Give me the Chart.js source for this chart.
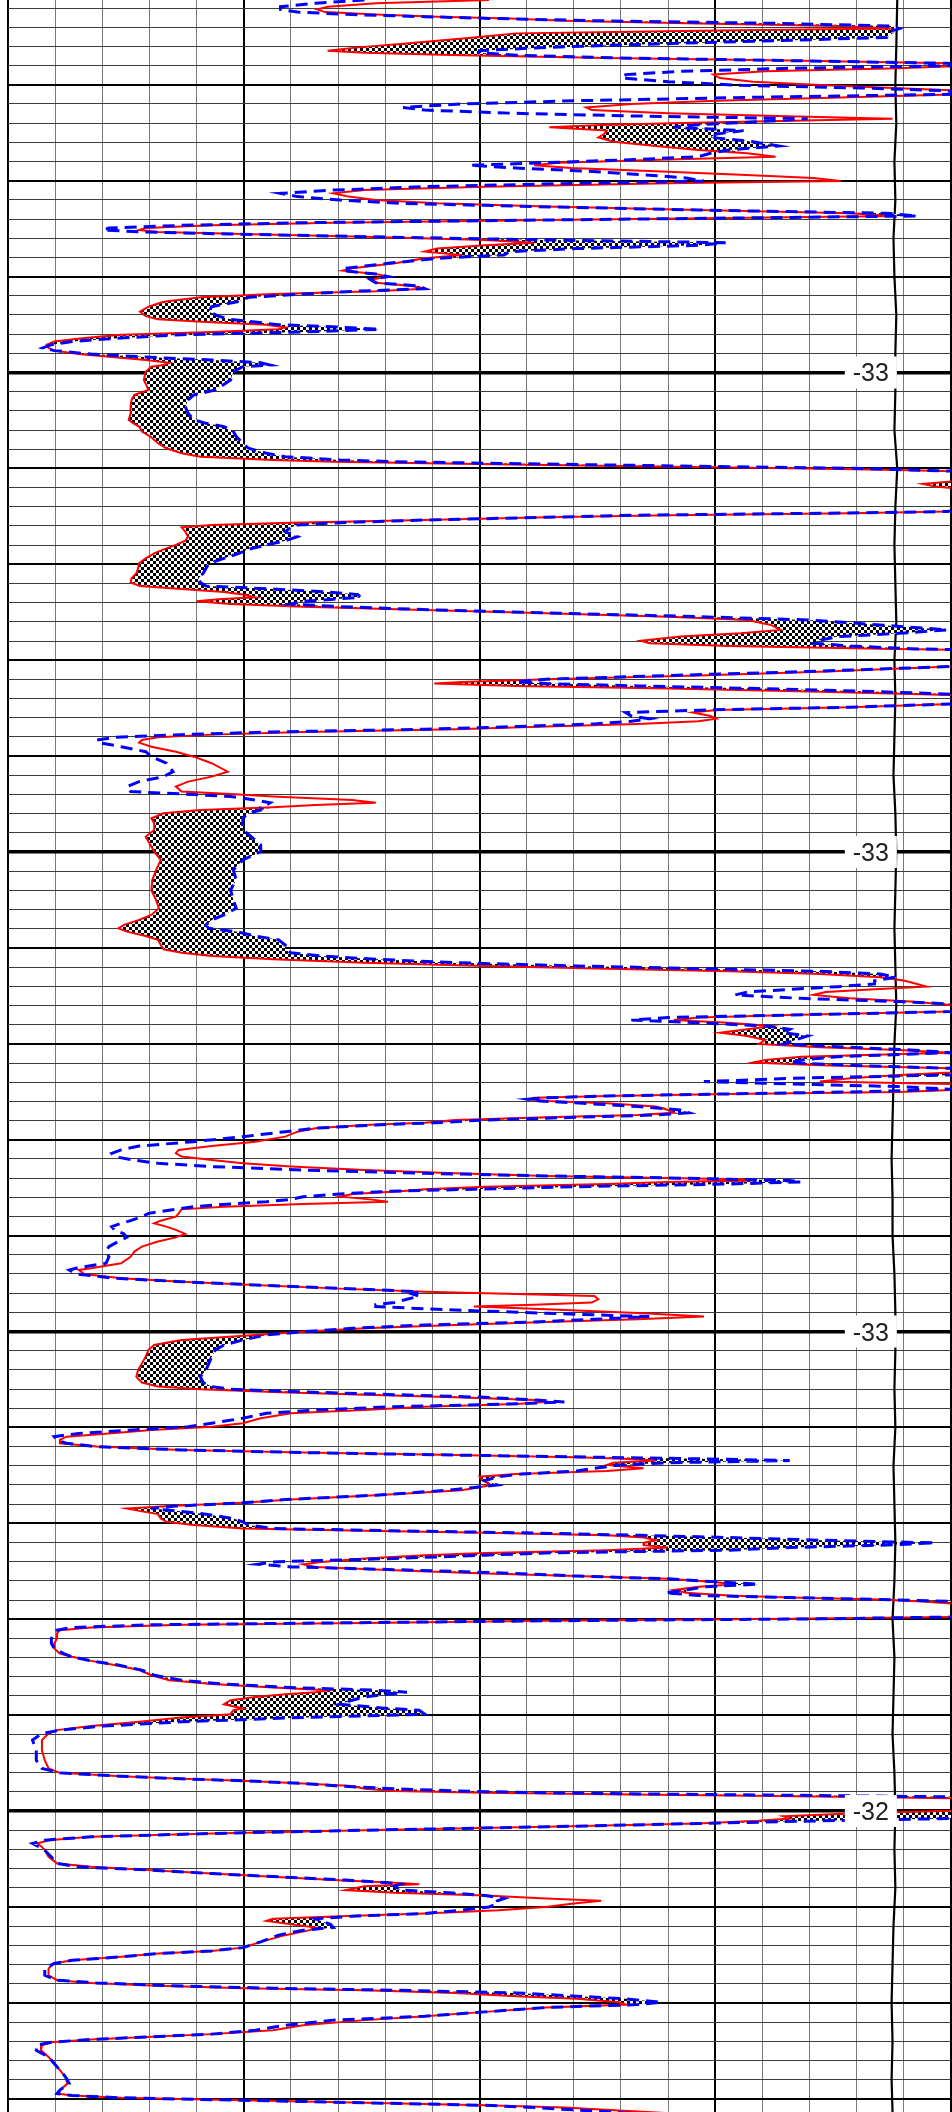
<!DOCTYPE html>
<html><head><meta charset="utf-8">
<script src="https://cdn.jsdelivr.net/npm/chart.js@4.4.0/dist/chart.umd.min.js"></script>
<style>html,body{margin:0;padding:0;background:#fff;overflow:hidden}#wrap{width:952px;height:2112px}</style>
</head><body>
<div id="wrap"><canvas id="c" width="952" height="2112" style="width:952px;height:2112px"></canvas></div>
<script>
// depth of every sample (top of track = 1005.58, bottom = 1115.69)
const depthM = [
1005.58,1005.75,1005.93,1006.07,1006.21,1006.34,1006.45,1006.55,1006.66,1006.80,
1006.94,1007.07,1007.18,1007.32,1007.53,1007.70,1007.87,1008.05,1008.22,1008.33,
1008.46,1008.60,1008.74,1008.88,1008.99,1009.14,1009.30,1009.47,1009.65,1009.84,
1010.03,1010.17,1010.31,1010.48,1010.65,1010.83,1011.00,1011.18,1011.32,1011.49,
1011.63,1011.77,1011.94,1012.08,1012.22,1012.39,1012.57,1012.74,1012.97,1013.19,
1013.40,1013.57,1013.75,1013.89,1014.06,1014.20,1014.34,1014.51,1014.69,1014.86,
1015.02,1015.14,1015.31,1015.49,1015.66,1015.83,1016.01,1016.18,1016.35,1016.53,
1016.70,1016.84,1016.95,1017.05,1017.19,1017.33,1017.47,1017.57,1017.68,1017.78,
1017.92,1018.09,1018.23,1018.37,1018.54,1018.70,1018.87,1019.05,1019.31,1019.57,
1019.69,1019.87,1020.00,1020.14,1020.32,1020.49,1020.63,1020.77,1020.91,1021.08,
1021.31,1021.57,1021.83,1022.06,1022.23,1022.37,1022.51,1022.65,1022.75,1022.89,
1023.03,1023.20,1023.38,1023.55,1023.72,1023.86,1024.04,1024.21,1024.35,1024.49,
1024.61,1024.70,1024.96,1025.39,1025.91,1026.17,1026.43,1026.78,1027.13,1027.47,
1027.65,1027.82,1028.08,1028.34,1028.69,1028.95,1029.21,1029.39,1029.56,1029.65,
1029.73,1029.82,1029.91,1029.99,1030.08,1030.17,1030.60,1030.81,1030.95,1031.12,
1032.08,1032.25,1032.34,1032.44,1032.55,1032.69,1032.83,1032.95,1033.07,1033.30,
1033.56,1033.77,1033.99,1034.22,1034.43,1034.69,1034.95,1035.21,1035.47,1035.73,
1035.95,1036.13,1036.29,1036.44,1036.58,1036.72,1036.82,1036.93,1037.07,1037.21,
1037.38,1037.55,1037.73,1037.90,1038.16,1038.42,1038.60,1038.77,1038.98,1039.12,
1039.26,1039.40,1039.47,1039.99,1040.33,1040.60,1040.80,1040.99,1041.13,1041.22,
1041.34,1041.48,1041.64,1041.81,1041.99,1042.25,1042.45,1042.59,1042.73,1042.91,
1043.05,1043.18,1043.32,1043.46,1043.60,1043.74,1043.88,1044.02,1044.16,1044.30,
1044.51,1044.77,1045.03,1045.37,1045.81,1046.07,1046.33,1046.59,1046.85,1046.97,
1047.11,1047.29,1047.43,1047.55,1047.67,1047.81,1047.98,1048.24,1048.50,1048.85,
1049.20,1049.63,1049.98,1050.41,1050.94,1051.46,1051.98,1052.50,1052.93,1053.28,
1053.54,1053.80,1053.98,1054.15,1054.38,1054.58,1054.85,1055.07,1055.25,1055.42,
1055.59,1055.77,1055.94,1056.08,1056.22,1056.36,1056.53,1056.71,1056.88,1057.02,
1057.16,1057.30,1057.45,1057.63,1057.80,1057.97,1058.15,1058.32,1058.50,1058.63,
1058.76,1058.90,1059.07,1059.24,1059.42,1059.59,1059.80,1060.01,1060.18,1060.32,
1060.46,1060.67,1060.84,1060.98,1061.12,1061.28,1061.45,1061.62,1061.80,1061.97,
1062.09,1062.23,1062.37,1062.51,1062.61,1062.72,1062.81,1062.89,1062.98,1063.10,
1063.27,1063.45,1063.59,1063.71,1063.83,1063.97,1064.11,1064.23,1064.40,1064.58,
1064.84,1065.10,1065.33,1065.53,1065.71,1065.88,1066.06,1066.23,1066.40,1066.58,
1066.75,1066.89,1066.99,1067.06,1067.13,1067.20,1067.31,1067.45,1067.58,1067.69,
1067.83,1067.97,1068.11,1068.23,1068.35,1068.49,1068.63,1068.84,1069.01,1069.22,
1069.36,1069.53,1069.70,1069.91,1070.09,1070.31,1070.57,1070.83,1071.10,1071.44,
1071.70,1071.79,1072.00,1072.22,1072.40,1072.57,1072.75,1072.92,1073.04,1073.15,
1073.32,1073.49,1073.60,1073.70,1073.84,1074.05,1074.22,1074.36,1074.50,1074.66,
1074.83,1075.01,1075.18,1075.44,1075.70,1075.96,1076.31,1076.66,1077.00,1077.35,
1077.66,1077.87,1078.01,1078.15,1078.29,1078.43,1078.57,1078.67,1078.78,1078.92,
1079.09,1079.26,1079.52,1079.78,1079.96,1080.13,1080.31,1080.48,1080.65,1080.83,
1081.00,1081.17,1081.31,1081.44,1081.56,1081.66,1081.73,1081.84,1081.96,1082.13,
1082.27,1082.43,1082.57,1082.77,1083.00,1083.27,1083.53,1083.76,1083.93,1084.10,
1084.23,1084.35,1084.52,1084.75,1084.92,1085.09,1085.27,1085.39,1085.49,1085.62,
1085.74,1085.88,1086.02,1086.14,1086.26,1086.40,1086.54,1086.66,1086.83,1087.01,
1087.13,1087.27,1087.44,1087.61,1087.75,1087.89,1088.05,1088.17,1088.31,1088.48,
1088.62,1088.76,1088.87,1088.97,1089.07,1089.18,1089.35,1089.87,1089.98,1090.08,
1090.19,1090.29,1090.43,1090.57,1090.74,1091.00,1091.26,1091.52,1091.79,1091.96,
1092.17,1092.39,1092.65,1092.92,1093.18,1093.38,1093.56,1093.70,1093.80,1093.91,
1094.05,1094.22,1094.43,1094.65,1094.74,1094.95,1095.12,1095.35,1095.57,1095.78,
1095.96,1096.30,1096.83,1097.35,1097.78,1098.01,1098.18,1098.32,1098.42,1098.56,
1098.70,1098.84,1098.95,1099.05,1099.12,1099.19,1099.26,1099.33,1099.52,1099.95,
1100.13,1100.27,1100.39,1100.51,1100.65,1100.82,1101.00,1101.17,1101.34,1101.52,
1101.69,1101.87,1102.04,1102.39,1102.73,1102.91,1103.08,1103.26,1103.43,1103.60,
1103.74,1103.81,1103.92,1104.12,1104.26,1104.40,1104.56,1104.68,1104.82,1105.00,
1105.17,1105.34,1105.48,1105.62,1105.73,1105.90,1106.07,1106.21,1106.47,1106.82,
1107.12,1107.29,1107.43,1107.60,1107.78,1107.95,1108.21,1108.56,1108.82,1108.96,
1109.10,1109.24,1109.34,1109.48,1109.65,1109.79,1109.97,1110.09,1110.24,1110.47,
1110.70,1110.90,1111.17,1111.43,1111.63,1111.77,1111.91,1112.05,1112.21,1112.47,
1112.82,1113.16,1113.51,1113.86,1114.21,1114.55,1114.73,1114.83,1114.95,1115.08,
1115.21,1115.34,1115.46,1115.75
];
// red solid curve
const deepCurve = [
51.0,39.0,33.9,32.8,33.6,39.0,45.5,53.2,59.0,73.2,
88.0,93.8,73.2,53.9,49.4,45.5,41.6,37.1,33.9,37.8,
48.1,63.5,82.9,99.6,102,94.5,80.3,74.8,75.5,79.0,
86.7,93.8,101,102,89.3,75.1,66.1,61.3,61.9,70.0,
81.6,93.8,76.4,63.5,57.4,63.5,63.2,62.6,64.2,68.7,
73.2,78.4,81.4,70.0,58.4,55.8,59.7,68.7,77.7,85.4,
88.3,70.0,50.6,37.8,34.5,36.1,39.0,45.5,57.1,73.2,
89.3,93.8,76.4,57.1,34.5,21.6,14.6,13.9,15.9,24.9,
37.8,50.6,55.8,50.6,45.5,44.2,48.1,44.2,41.0,36.5,
35.5,39.0,40.3,38.7,39.0,42.9,44.2,39.0,28.1,20.4,
16.5,14.9,14.0,14.6,15.9,21.0,27.4,29.4,28.7,21.6,
12.0,8.1,4.9,4.1,4.3,4.9,7.5,11.3,14.6,17.1,
16.5,15.2,14.6,14.4,14.9,13.4,13.1,13.0,13.0,12.8,
13.3,13.9,14.2,15.1,15.9,16.8,18.4,20.4,28.1,34.5,
44.2,57.1,70.0,82.9,94.5,102,102,97.0,98.3,102,
102,99.6,89.3,70.0,57.1,44.2,30.0,21.6,18.4,18.8,
19.1,18.8,17.8,16.5,15.5,14.6,13.9,13.8,13.6,13.1,
13.0,14.0,18.4,22.9,24.9,26.2,22.3,20.0,23.6,31.3,
44.2,57.1,70.0,78.4,80.9,81.9,77.7,71.3,67.1,68.0,
76.4,92.5,102,102,100,86.1,73.2,57.1,48.1,45.2,
53.9,70.0,86.1,100,102,102,89.3,75.1,72.6,74.5,
75.1,73.2,66.8,57.1,47.4,31.3,21.6,15.9,14.2,13.9,
15.2,17.8,19.7,21.6,23.3,21.6,19.1,17.8,18.4,23.6,
28.1,36.5,39.0,32.6,28.1,20.4,16.5,15.2,15.5,15.5,
14.6,15.1,15.5,16.2,15.7,15.3,15.2,15.7,16.0,15.2,
13.9,12.3,11.7,12.6,14.6,15.9,16.2,16.5,18.4,21.6,
28.1,37.8,50.6,63.5,76.4,86.1,92.5,95.1,96.4,97.4,
91.9,86.7,85.4,89.3,95.7,100,102,100,82.9,73.2,
70.6,76.4,80.9,78.4,75.5,78.4,80.3,79.6,86.1,94.5,
100,84.1,80.3,79.0,86.1,100,102,94.5,89.3,86.1,
100,102,102,94.5,76.4,63.5,55.8,55.2,57.1,63.5,
68.7,70.0,70.6,66.8,57.1,47.4,44.2,37.8,32.6,30.7,
29.4,26.2,21.6,18.1,17.8,18.4,21.6,24.9,30.0,37.8,
47.4,57.1,70.0,77.7,78.4,70.0,63.5,50.6,44.2,41.6,
36.5,35.2,38.4,40.3,31.3,22.9,18.4,18.1,17.8,16.2,
15.5,16.8,17.8,18.8,17.8,15.9,14.2,13.4,13.0,12.0,
8.8,7.5,8.1,12.0,18.4,26.2,34.5,44.2,53.9,62.2,
62.6,61.9,55.8,49.4,57.1,67.4,73.8,66.8,57.1,47.4,
37.8,31.3,26.2,18.4,15.5,14.9,14.6,14.2,13.8,13.6,
14.2,15.9,20.4,28.1,37.8,47.4,55.8,57.1,53.9,44.2,
37.8,30.0,26.8,24.9,21.6,15.2,10.7,6.2,5.5,5.5,
9.4,18.4,31.3,47.4,60.3,66.8,68.7,64.2,63.5,67.4,
63.5,53.9,50.0,50.3,51.3,48.1,39.0,30.0,24.9,17.1,
12.6,13.9,15.9,16.2,16.8,19.7,24.9,37.8,50.6,63.5,
67.4,68.7,67.4,67.4,70.0,63.5,50.6,44.2,37.8,33.2,
31.3,32.6,41.0,50.6,60.3,70.0,74.5,77.1,73.2,70.6,
71.9,76.4,82.9,92.5,97.0,100,102,102,82.9,57.1,
37.8,18.4,8.8,5.5,5.2,5.2,4.9,4.9,5.5,6.8,
8.8,11.3,13.9,15.2,17.1,21.6,28.1,33.9,32.6,29.4,
26.2,23.6,22.9,24.9,23.9,23.6,18.4,13.9,8.8,5.2,
4.3,3.6,3.6,3.9,4.3,5.5,12.0,18.4,24.9,31.3,
36.5,37.8,41.0,50.6,63.5,76.4,88.0,100,102,102,
89.3,82.2,82.9,79.6,73.2,57.1,37.8,21.6,8.8,4.3,
3.1,3.6,3.9,4.3,5.2,8.8,15.2,21.6,28.1,34.5,
41.0,43.6,37.8,35.8,41.0,50.6,57.1,62.9,60.0,57.0,
52.0,44.2,35.2,28.1,27.4,30.0,32.6,32.0,29.4,26.8,
24.9,21.6,15.9,12.0,6.8,4.9,4.3,4.3,5.2,8.8,
15.2,24.9,37.8,47.4,53.9,60.3,64.8,65.5,57.1,50.6,
44.2,37.8,31.3,28.1,21.6,15.2,8.8,4.6,3.6,3.5,
4.3,4.9,5.5,6.1,6.3,5.5,5.2,6.8,12.0,24.9,
37.8,50.6,59.0,70.0
];
// blue dashed curve
const shallowCurve = [
37.8,32.6,28.9,28.9,30.7,36.5,44.2,51.9,62.2,81.6,
93.8,94.5,93.8,93.8,93.2,81.6,68.7,57.1,50.0,50.0,
53.9,64.8,82.9,99.6,102,82.9,71.3,65.5,65.1,70.0,
77.7,90.6,99.6,102,79.6,60.3,48.1,41.9,44.2,53.9,
66.8,84.8,79.0,73.2,70.6,78.0,75.1,74.5,79.0,81.7,
76.4,74.5,73.2,66.8,57.1,49.0,53.9,61.6,67.4,71.9,
73.8,60.3,44.2,34.5,28.9,30.7,35.2,41.6,55.8,73.2,
93.2,96.4,76.4,57.1,31.3,18.4,10.7,10.1,14.6,23.6,
37.8,57.1,76.1,73.2,60.3,53.2,52.6,45.5,40.3,35.8,
35.5,39.0,40.3,38.4,39.0,43.6,44.2,36.5,31.3,25.5,
24.3,21.6,21.3,22.3,23.6,26.2,28.7,35.8,39.4,31.3,
18.4,12.0,6.8,4.6,3.7,4.9,8.8,15.2,21.6,26.8,
27.8,24.9,23.9,23.6,22.0,19.7,19.1,18.8,19.1,19.7,
21.0,22.9,23.9,24.2,24.9,25.5,27.4,29.4,35.2,41.0,
50.6,63.5,76.4,89.3,95.7,102,102,102,102,102,
102,99.6,86.1,66.8,57.1,44.2,35.2,30.7,30.0,29.4,
30.7,29.4,27.4,25.5,24.5,22.9,21.3,21.0,20.7,20.2,
20.4,21.0,28.1,33.9,37.1,37.4,34.5,31.3,30.0,35.2,
45.5,58.4,73.2,84.8,92.5,99.6,94.5,88.0,85.8,85.4,
89.3,95.7,102,102,100,84.1,70.0,57.1,53.9,57.1,
66.8,79.6,92.5,102,102,102,89.3,74.5,65.5,66.1,
68.0,66.1,62.2,53.9,44.2,28.1,18.4,11.3,9.4,9.7,
12.0,14.6,15.2,16.8,17.5,16.5,13.9,12.6,13.0,18.4,
23.6,26.2,27.8,27.4,26.8,26.8,25.5,24.9,24.9,24.9,
25.8,26.8,26.8,24.9,23.9,24.2,23.6,23.9,24.2,22.9,
21.6,21.0,21.3,24.2,26.2,28.7,29.4,29.4,30.0,33.2,
39.0,47.4,60.3,73.2,86.1,92.5,94.1,91.9,91.9,88.0,
82.9,78.4,77.1,84.1,94.5,102,102,100,82.9,70.0,
66.1,73.2,80.3,82.9,82.2,84.8,83.5,82.2,89.3,95.7,
100,88.0,84.1,82.9,89.3,100,102,100,82.9,73.8,
82.9,94.5,100,89.3,76.4,63.5,57.1,55.2,56.4,61.0,
66.8,71.3,72.2,68.7,60.3,50.6,45.5,39.0,32.6,29.4,
24.9,19.7,13.9,12.0,11.0,11.3,13.3,15.9,21.6,31.3,
44.2,57.1,70.0,76.4,82.9,84.1,76.4,60.3,49.4,40.3,
35.2,31.3,30.0,27.4,23.6,19.7,17.8,14.9,14.2,13.0,
12.0,11.0,11.3,12.3,12.6,11.7,10.7,10.4,10.7,10.4,
7.2,6.5,7.2,11.3,18.4,26.2,35.2,43.6,42.9,43.6,
42.3,41.0,39.0,39.0,45.5,57.1,68.0,62.2,55.8,44.2,
36.5,31.3,27.4,24.9,22.9,22.0,21.6,21.3,21.0,20.4,
20.7,21.6,23.6,31.3,41.0,50.6,56.0,59.0,53.0,41.0,
32.6,27.4,24.9,21.6,19.1,13.3,7.5,4.9,5.2,6.2,
9.4,18.4,31.3,47.4,63.5,76.4,82.9,70.0,64.8,62.2,
60.3,54.5,51.9,50.6,51.9,46.8,39.0,29.4,24.9,17.8,
15.2,17.8,21.0,23.9,24.9,25.5,28.1,41.0,53.9,66.8,
76.4,86.1,98.3,92.5,82.9,76.4,57.1,50.6,41.0,28.1,
26.5,30.0,42.9,53.9,60.3,70.0,75.1,79.6,73.8,71.9,
69.7,73.2,82.9,92.5,100,102,102,102,86.1,57.1,
34.5,15.2,6.8,5.2,4.9,4.6,4.6,4.9,5.9,6.8,
8.8,11.7,14.2,15.5,18.4,22.9,30.0,39.0,42.3,40.3,
37.8,36.5,35.2,40.3,43.6,44.2,31.3,18.4,10.1,5.5,
3.6,2.6,3.0,3.0,3.6,5.5,12.0,18.4,24.9,31.3,
35.2,41.0,47.4,57.1,70.0,86.1,100,102,102,102,
102,102,100,86.1,73.2,57.1,37.8,21.6,8.8,3.9,
2.6,3.3,3.9,4.6,5.2,7.5,15.2,21.6,28.7,35.8,
40.3,41.6,41.0,41.6,46.8,50.6,52.6,51.9,52.0,51.0,
48.0,44.2,36.5,32.6,33.2,34.2,34.5,31.3,28.7,26.8,
24.9,21.6,15.9,12.0,6.8,4.9,3.9,3.9,5.2,9.4,
17.1,28.1,41.0,53.9,60.3,65.5,69.3,66.8,57.1,50.6,
44.2,34.5,29.4,26.2,21.6,15.2,8.8,4.6,3.0,3.0,
4.3,4.9,5.5,6.1,6.5,5.5,5.2,6.8,12.0,24.9,
37.8,50.6,55.8,66.0
];
// black, nearly constant curve near the right of the track
const blackDepth = [1005.58,1008,1010,1012,1014,1016,1018,1020,1022,1024,1026,1028,1030,1032,1034,1036,1038,1040,1042,1044,1046,1048,1050,1052,1054,1056,1058,1060,1062,1064,1066,1068,1070,1072,1074,1076,1078,1080,1082,1084,1086,1088,1090,1092,1094,1096,1098,1100,1102,1104,1106,1108,1110,1112,1114,1115.69];
const blackCurve = [94.3,94.2,94.1,94.2,94.0,94.1,93.9,94.0,94.2,94.1,94.1,94.0,94.3,94.1,94.0,94.1,94.2,94.0,94.1,94.0,93.9,94.1,94.2,94.1,94.0,94.1,94.2,94.0,93.9,93.8,93.7,93.8,93.8,94.0,94.1,94.1,94.0,94.1,93.9,94.0,94.1,94.0,93.8,94.0,93.9,93.8,94.0,94.1,94.0,94.1,93.9,93.8,93.7,93.8,93.7,93.8];
// value labels printed on the heavy depth lines
const labelDepths = [1025, 1050, 1075, 1100];
const labelTexts = ['-33', '-33', '-33', '-32'];
const labelValue = 91.5;
// track extent and grid positions
const depthTop = 1005.58, depthBottom = 1115.69;
const xGrid = [0,5,10,15,20,25,30,35,40,45,50,55,60,65,70,75,80,85,90,95,100];
const yGrid = [];
for (let d = 1006; d <= 1115; d++) yGrid.push(d);

const canvas = document.getElementById('c');
const ctx0 = canvas.getContext('2d');
const checker = (() => {
  const p = document.createElement('canvas'); p.width = 6; p.height = 6;
  const g = p.getContext('2d');
  g.fillStyle = '#fff'; g.fillRect(0, 0, 6, 6);
  g.fillStyle = '#000'; g.fillRect(0, 0, 3, 3); g.fillRect(3, 3, 3, 3);
  return ctx0.createPattern(p, 'repeat');
})();

const pts = (ys, xs) => ys.map((y, i) => ({x: xs[i], y: y}));
const crossEdge = deepCurve.map((r, i) => Math.max(r, shallowCurve[i]));

const bgPlugin = {
  id: 'bg',
  beforeDraw(chart) {
    const c = chart.ctx; c.save(); c.fillStyle = '#fff';
    c.fillRect(0, 0, chart.width, chart.height); c.restore();
  }
};
const labelPlugin = {
  id: 'curveLabels',
  afterDatasetsDraw(chart) {
    const c = chart.ctx, xs = chart.scales.x, ys = chart.scales.y;
    c.save();
    c.font = '25px "Liberation Sans", Arial, sans-serif';
    c.textAlign = 'center'; c.textBaseline = 'alphabetic';
    labelDepths.forEach((d, i) => {
      const px = xs.getPixelForValue(labelValue);
      const py = ys.getPixelForValue(d);
      c.fillStyle = '#fff';
      c.fillRect(px - 26, py - 16, 52, 32);
      c.fillStyle = '#222';
      c.fillText(labelTexts[i], px, py + 9);
    });
    c.restore();
  }
};

new Chart(canvas, {
  type: 'line',
  data: {
    datasets: [
      {label: 'Deep', data: pts(depthM, deepCurve), borderColor: '#ff0000', borderWidth: 2, pointRadius: 0, fill: false, order: 2},
      {label: 'Shallow', data: pts(depthM, shallowCurve), borderColor: '#0000ff', borderWidth: 3, borderDash: [12, 7], pointRadius: 0, fill: false, order: 1},
      {label: 'Crossover', data: pts(depthM, crossEdge), borderColor: 'rgba(0,0,0,0)', borderWidth: 0, pointRadius: 0, backgroundColor: checker, fill: 0, order: 3},
      {label: 'SP', data: pts(blackDepth, blackCurve), borderColor: '#000', borderWidth: 2.2, pointRadius: 0, fill: false, order: 4}
    ]
  },
  options: {
    indexAxis: 'y',
    responsive: false,
    animation: false,
    events: [],
    devicePixelRatio: 1,
    layout: {padding: {left: 8, right: 1, top: 0, bottom: 0}},
    plugins: {legend: {display: false}, tooltip: {enabled: false}},
    scales: {
      x: {
        type: 'linear', position: 'bottom', min: 0, max: 100,
        afterBuildTicks: (s) => { s.ticks = xGrid.map(v => ({value: v})); },
        ticks: {display: false},
        border: {display: false},
        grid: {
          drawTicks: false,
          color: (c) => (c.tick && c.tick.value % 25 === 0) ? '#000' : '#7a7a7a',
          lineWidth: (c) => (c.tick && c.tick.value % 25 === 0) ? 2 : 1
        }
      },
      y: {
        type: 'linear', position: 'left', reverse: true, min: depthTop, max: depthBottom,
        afterBuildTicks: (s) => { s.ticks = yGrid.map(v => ({value: v})); },
        ticks: {display: false},
        border: {display: false},
        grid: {
          drawTicks: false,
          color: (c) => {
            const v = c.tick ? c.tick.value : 0;
            return (v % 5 === 0) ? '#000' : '#3c3c3c';
          },
          lineWidth: (c) => {
            const v = c.tick ? c.tick.value : 0;
            return v % 25 === 0 ? 3.5 : (v % 5 === 0 ? 2 : 1);
          }
        }
      }
    }
  },
  plugins: [bgPlugin, labelPlugin]
});
</script>
</body></html>
